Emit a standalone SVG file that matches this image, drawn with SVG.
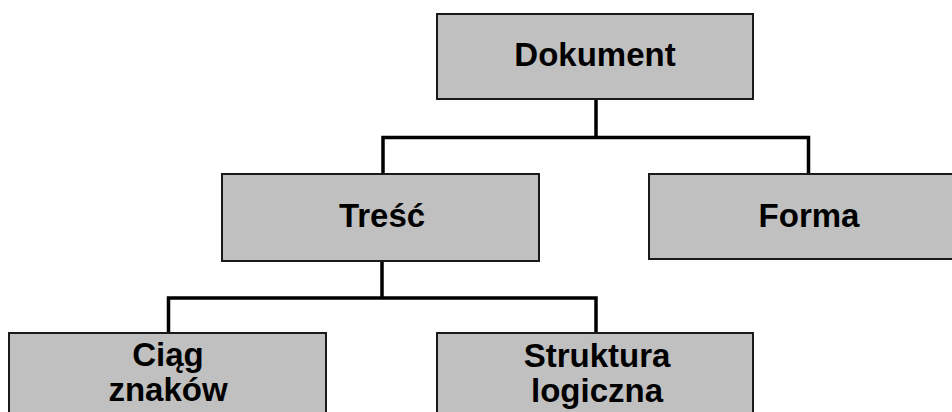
<svg xmlns="http://www.w3.org/2000/svg" width="952" height="412" viewBox="0 0 952 412">
<style>
.box{fill:#c0c0c0;stroke:#1a1a1a;stroke-width:2}
.lbl{font-family:"Liberation Sans",Arial,sans-serif;font-weight:bold;font-size:33px;fill:#000;text-anchor:middle}
.conn{fill:none;stroke:#000;stroke-width:3.5}
</style>
<rect width="952" height="412" fill="#fff"/>
<g id="connectors">
<path class="conn" d="M596 99 V137.5 M383 174 V137.5 H808.5 V174"/>
<path class="conn" d="M382 261 V298 M168.5 333 V298 H596 V333"/>
</g>
<g id="dokument"><rect class="box" x="437" y="14" width="316" height="85"/><text class="lbl" x="595" y="66">Dokument</text></g>
<g id="tresc"><rect class="box" x="222" y="174" width="317" height="87"/><text class="lbl" x="382" y="227">Treść</text></g>
<g id="forma"><rect class="box" x="649" y="174" width="318" height="85"/><text class="lbl" x="809" y="227">Forma</text></g>
<g id="ciag"><rect class="box" x="9" y="333" width="317" height="100"/><text class="lbl" x="168" y="366">Ciąg</text><text class="lbl" x="168" y="401">znaków</text></g>
<g id="struktura"><rect class="box" x="437" y="333" width="316" height="100"/><text class="lbl" x="597" y="367">Struktura</text><text class="lbl" x="597" y="402">logiczna</text></g>
</svg>
